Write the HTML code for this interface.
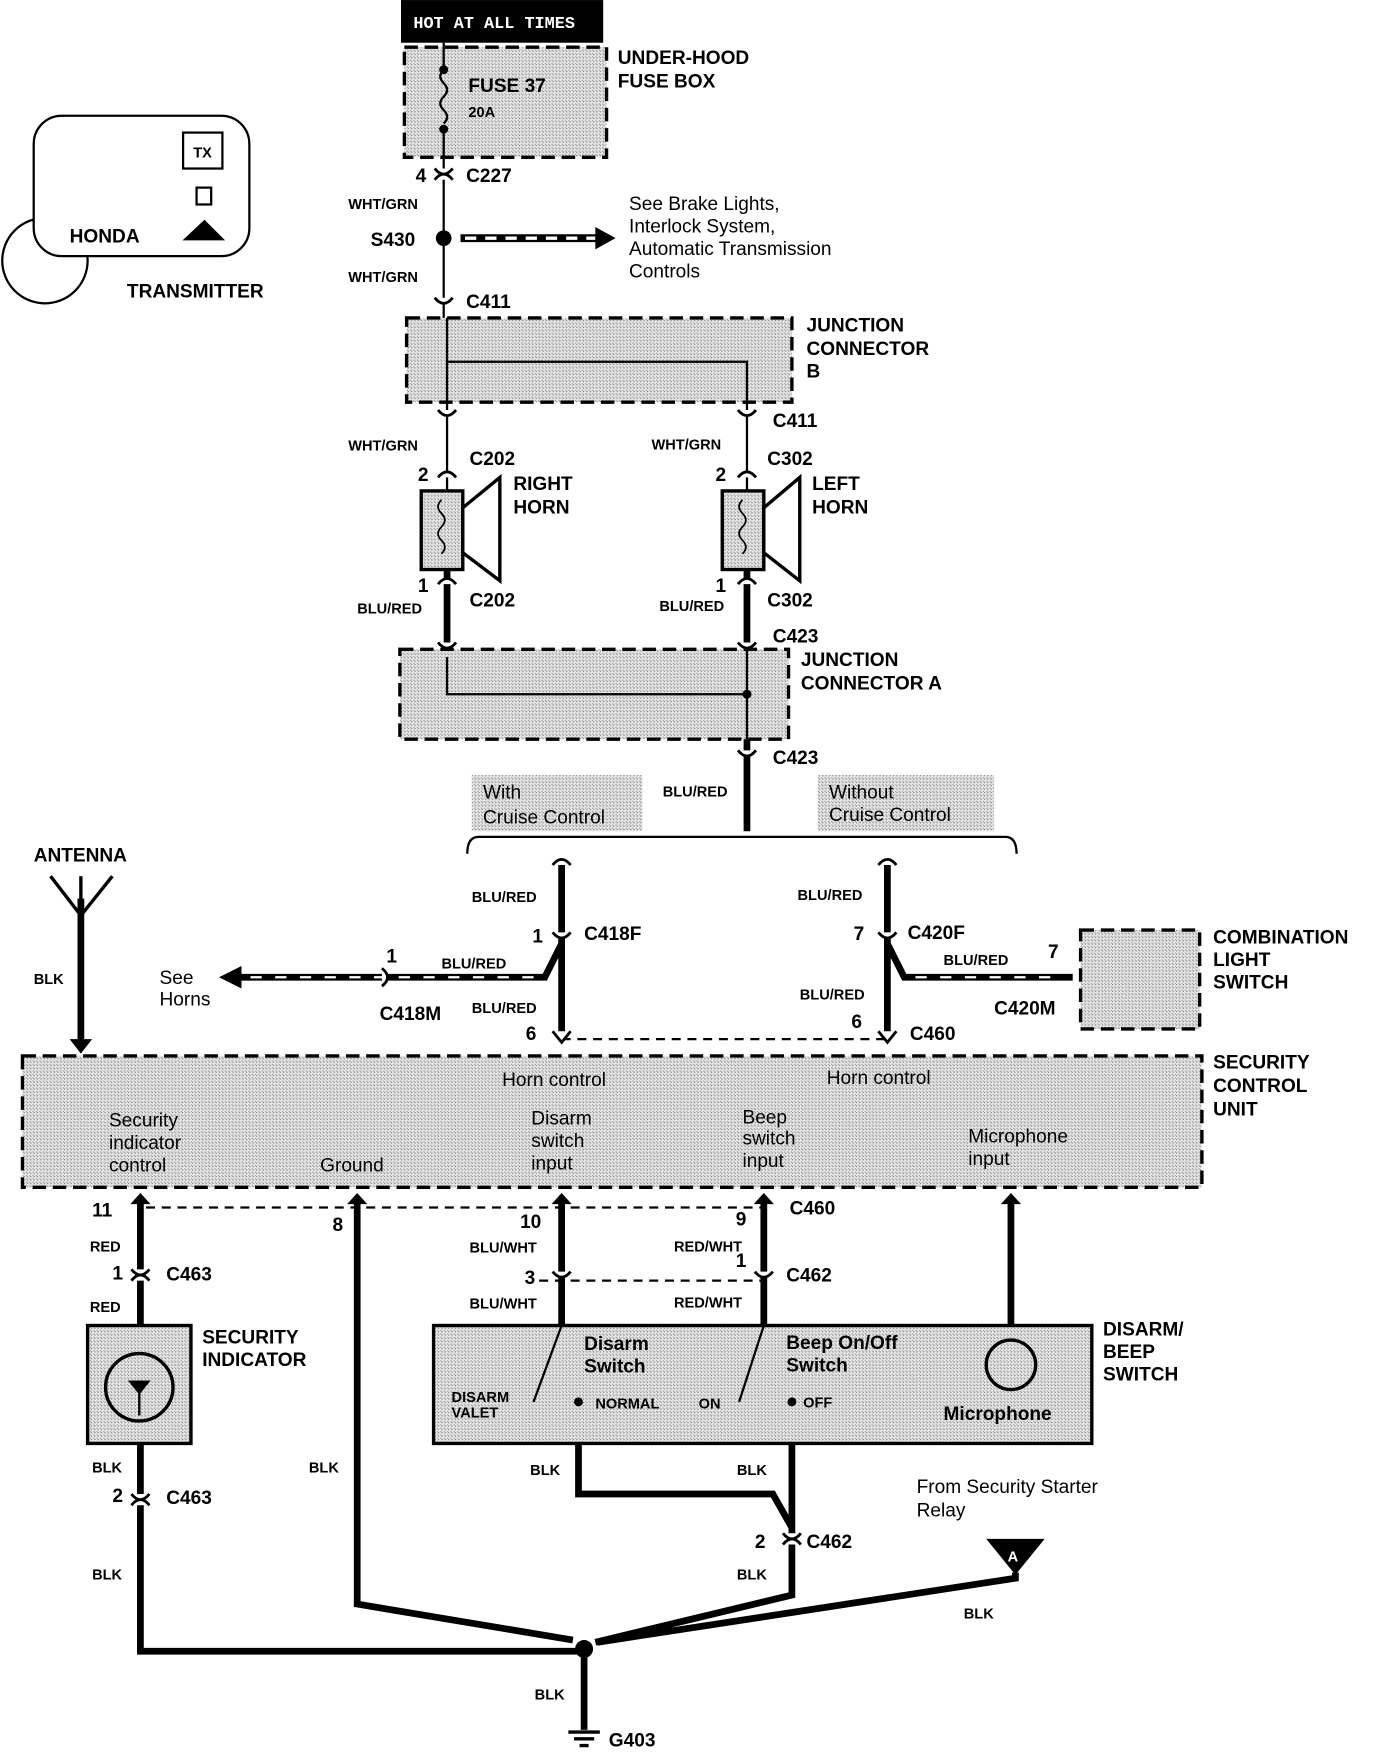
<!DOCTYPE html>
<html><head><meta charset="utf-8"><style>
html,body{margin:0;padding:0;background:#fff}
svg{display:block}
text{font-family:"Liberation Sans",sans-serif;font-weight:bold;fill:#000}
.b{font-size:17px}
.s{font-size:13px}
.n{font-weight:normal;font-size:17px}
</style></head><body>
<svg width="1376" height="1758" viewBox="0 0 1225 1565" xmlns="http://www.w3.org/2000/svg">
<defs>
<pattern id="st" width="3" height="3" patternUnits="userSpaceOnUse"><rect width="3" height="3" fill="#e6e6e6"/><rect width="1" height="1" fill="#777"/><rect x="2" y="2" width="1" height="1" fill="#999"/></pattern>
</defs>
<g fill="none" stroke="#000" stroke-width="2">
<circle cx="40" cy="232" r="38" fill="#fff"/>
<rect x="30" y="103" width="192" height="125" rx="25" fill="#fff"/>
<rect x="163" y="118" width="35" height="32" fill="#fff"/>
<rect x="175" y="167" width="13" height="15"/>
<polygon points="165,213 198,213 182,197" fill="#000"/>
</g>
<text x="62" y="216" class="b">HONDA</text>
<text x="172" y="140" class="s">TX</text>
<text x="113" y="265" class="b">TRANSMITTER</text>

<rect x="357" y="0" width="180" height="38" fill="#000"/>
<text x="368" y="25" style="fill:#fff;font-size:15px;font-family:'Liberation Mono',monospace">HOT AT ALL TIMES</text>
<rect x="360" y="42" width="180" height="98" fill="url(#st)" stroke="#000" stroke-width="3" stroke-dasharray="12,6"/>
<text x="550" y="57" class="b">UNDER-HOOD</text><text x="550" y="78" class="b">FUSE BOX</text>
<text x="417" y="82" class="b">FUSE 37</text><text x="417" y="104" class="s">20A</text>
<g stroke="#000" stroke-width="2" fill="none">
<path d="M395 38 V60 M395 115 V140"/>
<path d="M395 62 q-6 6 0 12 q6 6 0 12 q-6 6 0 12 q6 6 0 12"/>
<path d="M395 140 V290"/>
<path d="M398 358 V437 M665 358 V437"/>
<path d="M416 760 q0 -15 10 -15 H895 q10 0 10 15"/>
<path d="M500 925 H790" stroke-dasharray="8,6"/>
<path d="M130 1075 H680" stroke-dasharray="8,6"/>
<path d="M480 1140 H680" stroke-dasharray="8,6"/>
</g>
<circle cx="395" cy="62" r="4"/><circle cx="395" cy="115" r="4"/>
<text x="370" y="162" class="b">4</text><text x="415" y="162" class="b">C227</text>
<text x="310" y="186" class="s">WHT/GRN</text>
<circle cx="395" cy="212" r="7"/>
<text x="330" y="219" class="b">S430</text>
<path d="M410 212 H535" stroke="#000" stroke-width="7"/>
<path d="M414 212 H530" stroke="#fff" stroke-width="3" stroke-dasharray="10,8"/>
<polygon points="530,202 548,212 530,222" fill="#000"/>
<text x="560" y="187" class="n">See Brake Lights,</text>
<text x="560" y="207" class="n">Interlock System,</text>
<text x="560" y="227" class="n">Automatic Transmission</text>
<text x="560" y="247" class="n">Controls</text>
<text x="310" y="251" class="s">WHT/GRN</text>
<text x="415" y="274" class="b">C411</text>
<rect x="362" y="283" width="343" height="75" fill="url(#st)" stroke="#000" stroke-width="3" stroke-dasharray="12,6"/>
<path d="M398 283 V358 M398 322 H665 V358" stroke="#000" stroke-width="2" fill="none"/>
<text x="718" y="295" class="b">JUNCTION</text><text x="718" y="316" class="b">CONNECTOR</text><text x="718" y="336" class="b">B</text>
<text x="688" y="380" class="b">C411</text>
<text x="310" y="401" class="s">WHT/GRN</text><text x="580" y="400" class="s">WHT/GRN</text>
<text x="372" y="428" class="b">2</text><text x="418" y="414" class="b">C202</text>
<text x="637" y="428" class="b">2</text><text x="683" y="414" class="b">C302</text>
<g stroke="#000" stroke-width="3">
<rect x="375" y="437" width="37" height="70" fill="url(#st)"/>
<polygon points="412,452 445,425 445,517 412,492" fill="#fff"/>
<rect x="643" y="437" width="37" height="70" fill="url(#st)"/>
<polygon points="680,452 712,425 712,517 680,492" fill="#fff"/>
</g>
<path d="M393 445 q-6 6 0 12 q6 6 0 12 q-6 6 0 12 q6 6 0 12 M661 445 q-6 6 0 12 q6 6 0 12 q-6 6 0 12 q6 6 0 12" stroke="#000" stroke-width="1.5" fill="none"/>
<text x="457" y="436" class="b">RIGHT</text><text x="457" y="457" class="b">HORN</text>
<text x="723" y="436" class="b">LEFT</text><text x="723" y="457" class="b">HORN</text>
<text x="372" y="527" class="b">1</text><text x="418" y="540" class="b">C202</text>
<text x="637" y="527" class="b">1</text><text x="683" y="540" class="b">C302</text>
<text x="318" y="546" class="s">BLU/RED</text><text x="587" y="544" class="s">BLU/RED</text>
<g stroke="#000" stroke-width="6" fill="none"><path d="M398 507 V578 M665 507 V578 M665 658 V740 M500 765 V925 M790 765 V925 M500 840 L485 870 H205 M790 840 L805 870 H955 M125 1068 V1180 M125 1285 V1470 H520 M318 1068 V1428 L510 1460 M500 1068 V1180 M680 1068 V1180 M900 1068 V1190 M515 1250 V1330 H688 L705 1360 M705 1250 V1420 L530 1462 M904 1400 V1405 L532 1462 M520 1468 V1540 M72 800 V930"/></g>
<g stroke="#fff" stroke-width="2" stroke-dasharray="10,12" fill="none"><path d="M475 870 H215 M815 870 H945"/></g>
<polygon points="195,870 215,860 215,880" fill="#000"/>
<g stroke="#000" stroke-width="2.5" fill="#fff">
<path d="M387 150 q8 10 16 0 M387 160 q8 -10 16 0"/>
<path d="M387 265 q8 10 16 0"/>
<path d="M390 365 q8 10 16 0 M657 365 q8 10 16 0"/>
<path d="M390 425 q8 -10 16 0 M657 425 q8 -10 16 0"/>
<path d="M390 520 q8 -10 16 0 M657 520 q8 -10 16 0"/>
<path d="M390 572 q8 10 16 0 M657 572 q8 10 16 0"/>
<path d="M657 668 q8 10 16 0"/>
<path d="M492 770 q8 -10 16 0 M782 770 q8 -10 16 0"/>
<path d="M492 830 q8 10 16 0 M782 830 q8 10 16 0"/>
<path d="M117 1130 q8 10 16 0 M117 1140 q8 -10 16 0"/>
<path d="M117 1330 q8 10 16 0 M117 1340 q8 -10 16 0"/>
<path d="M492 1132 q8 10 16 0 M672 1132 q8 10 16 0"/>
<path d="M697 1365 q8 10 16 0 M697 1375 q8 -10 16 0"/>
<path d="M340 862 q10 8 0 16"/>
<path d="M492 918 l8 10 l8 -10 M782 918 l8 10 l8 -10"/>
</g>
<text x="688" y="572" class="b">C423</text>
<rect x="356" y="578" width="346" height="80" fill="url(#st)" stroke="#000" stroke-width="3" stroke-dasharray="12,6"/>
<path d="M398 585 V618 H665 M665 578 V658" stroke="#000" stroke-width="2" fill="none"/>
<circle cx="665" cy="618" r="4"/>
<text x="713" y="593" class="b">JUNCTION</text><text x="713" y="614" class="b">CONNECTOR A</text>
<text x="688" y="680" class="b">C423</text>
<text x="590" y="709" class="s">BLU/RED</text>
<rect x="420" y="690" width="152" height="50" fill="url(#st)"/>
<rect x="728" y="690" width="157" height="50" fill="url(#st)"/>
<text x="430" y="711" class="n">With</text><text x="430" y="733" class="n">Cruise Control</text>
<text x="738" y="711" class="n">Without</text><text x="738" y="731" class="n">Cruise Control</text>
<text x="420" y="803" class="s">BLU/RED</text><text x="710" y="801" class="s">BLU/RED</text>
<text x="474" y="839" class="b">1</text><text x="520" y="837" class="b">C418F</text>
<text x="760" y="837" class="b">7</text><text x="808" y="836" class="b">C420F</text>
<text x="142" y="876" class="n">See</text><text x="142" y="895" class="n">Horns</text>
<text x="344" y="857" class="b">1</text><text x="338" y="908" class="b">C418M</text>
<text x="393" y="862" class="s">BLU/RED</text><text x="420" y="902" class="s">BLU/RED</text>
<text x="468" y="926" class="b">6</text>
<text x="840" y="859" class="s">BLU/RED</text><text x="933" y="853" class="b">7</text>
<text x="885" y="903" class="b">C420M</text><text x="712" y="890" class="s">BLU/RED</text>
<text x="758" y="915" class="b">6</text><text x="810" y="926" class="b">C460</text>
<rect x="962" y="828" width="106" height="88" fill="url(#st)" stroke="#000" stroke-width="3" stroke-dasharray="12,6"/>
<text x="1080" y="840" class="b">COMBINATION</text><text x="1080" y="860" class="b">LIGHT</text><text x="1080" y="880" class="b">SWITCH</text>
<path d="M45 780 L72 815 L100 780 M72 780 V815" stroke="#000" stroke-width="3" fill="none"/>
<polygon points="62,925 82,925 72,938" fill="#000"/>
<text x="30" y="767" class="b">ANTENNA</text><text x="30" y="876" class="s">BLK</text>
<rect x="20" y="940" width="1050" height="117" fill="url(#st)" stroke="#000" stroke-width="3" stroke-dasharray="12,6"/>
<text x="1080" y="951" class="b">SECURITY</text><text x="1080" y="972" class="b">CONTROL</text><text x="1080" y="993" class="b">UNIT</text>
<text x="447" y="967" class="n">Horn control</text><text x="736" y="965" class="n">Horn control</text>
<text x="97" y="1003" class="n">Security</text><text x="97" y="1023" class="n">indicator</text><text x="97" y="1043" class="n">control</text>
<text x="285" y="1043" class="n">Ground</text>
<text x="473" y="1001" class="n">Disarm</text><text x="473" y="1021" class="n">switch</text><text x="473" y="1041" class="n">input</text>
<text x="661" y="1000" class="n">Beep</text><text x="661" y="1019" class="n">switch</text><text x="661" y="1039" class="n">input</text>
<text x="862" y="1017" class="n">Microphone</text><text x="862" y="1037" class="n">input</text>
<g fill="#000"><polygon points="116,1072 134,1072 125,1062"/><polygon points="309,1072 327,1072 318,1062"/><polygon points="491,1072 509,1072 500,1062"/><polygon points="671,1072 689,1072 680,1062"/><polygon points="891,1072 909,1072 900,1062"/></g>
<text x="82" y="1083" class="b">11</text><text x="296" y="1096" class="b">8</text><text x="463" y="1093" class="b">10</text><text x="655" y="1091" class="b">9</text><text x="703" y="1081" class="b">C460</text>
<text x="80" y="1114" class="s">RED</text><text x="100" y="1139" class="b">1</text><text x="148" y="1140" class="b">C463</text><text x="80" y="1168" class="s">RED</text>
<text x="418" y="1115" class="s">BLU/WHT</text><text x="467" y="1143" class="b">3</text><text x="418" y="1165" class="s">BLU/WHT</text>
<text x="600" y="1114" class="s">RED/WHT</text><text x="655" y="1128" class="b">1</text><text x="700" y="1141" class="b">C462</text><text x="600" y="1164" class="s">RED/WHT</text>
<rect x="78" y="1180" width="92" height="105" fill="url(#st)" stroke="#000" stroke-width="3"/>
<circle cx="124" cy="1235" r="30" fill="none" stroke="#000" stroke-width="3"/>
<path d="M124 1235 V1260 M116 1230 H132 L124 1240 Z" stroke="#000" stroke-width="2" fill="#000"/>
<text x="180" y="1196" class="b">SECURITY</text><text x="180" y="1216" class="b">INDICATOR</text>
<rect x="386" y="1180" width="586" height="105" fill="url(#st)" stroke="#000" stroke-width="3"/>
<path d="M500 1180 L475 1248 M680 1180 L658 1248" stroke="#000" stroke-width="2"/>
<circle cx="515" cy="1248" r="4" fill="#000"/><circle cx="705" cy="1248" r="4" fill="#000"/>
<circle cx="900" cy="1215" r="22" fill="url(#st)" stroke="#000" stroke-width="3"/>
<text x="520" y="1202" class="b">Disarm</text><text x="520" y="1222" class="b">Switch</text>
<text x="700" y="1201" class="b">Beep On/Off</text><text x="700" y="1221" class="b">Switch</text>
<text x="402" y="1248" class="s">DISARM</text><text x="402" y="1262" class="s">VALET</text>
<text x="530" y="1254" class="s">NORMAL</text><text x="622" y="1254" class="s">ON</text><text x="715" y="1253" class="s">OFF</text>
<text x="840" y="1264" class="b">Microphone</text>
<text x="982" y="1189" class="b">DISARM/</text><text x="982" y="1209" class="b">BEEP</text><text x="982" y="1229" class="b">SWITCH</text>
<text x="82" y="1311" class="s">BLK</text><text x="100" y="1337" class="b">2</text><text x="148" y="1339" class="b">C463</text><text x="82" y="1406" class="s">BLK</text>
<text x="275" y="1311" class="s">BLK</text><text x="472" y="1313" class="s">BLK</text><text x="656" y="1313" class="s">BLK</text>
<text x="672" y="1378" class="b">2</text><text x="718" y="1378" class="b">C462</text><text x="656" y="1406" class="s">BLK</text>
<polygon points="878,1370 930,1370 904,1402" fill="#000"/><text x="897" y="1390" class="s" style="fill:#fff">A</text>
<text x="816" y="1329" class="n">From Security Starter</text><text x="816" y="1350" class="n">Relay</text>
<text x="858" y="1441" class="s">BLK</text>
<circle cx="520" cy="1468" r="8" fill="#000"/>
<text x="476" y="1513" class="s">BLK</text>
<path d="M506 1542 H534 M511 1548 H529 M516 1554 H524" stroke="#000" stroke-width="3"/>
<text x="542" y="1555" class="b">G403</text>
</svg>
</body></html>
